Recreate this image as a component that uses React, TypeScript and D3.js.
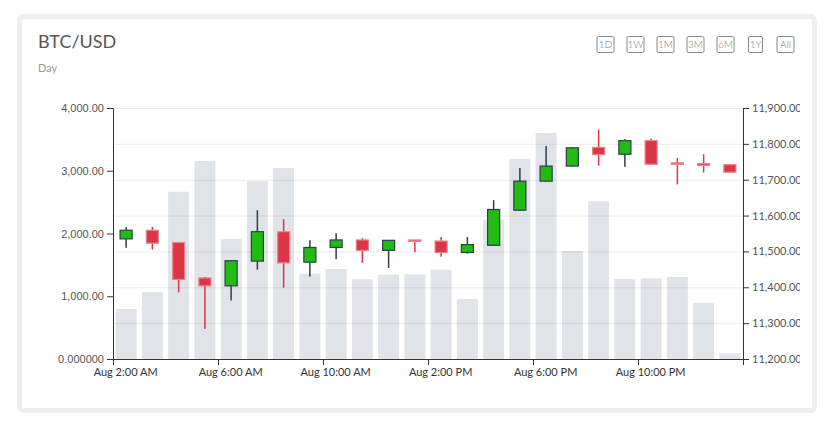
import React, { useEffect, useRef } from 'react';
import * as d3 from 'd3';

// hourly candles, Aug 2 2:00 AM .. Aug 3 1:00 AM
const startTime = new Date(2020, 7, 2, 2);
const endTime = new Date(2020, 7, 3, 2);
const times = d3.range(24).map((i) => d3.timeHour.offset(startTime, i));

const opens = [11535, 11559, 11525, 11426, 11404, 11473, 11555, 11470, 11511, 11532, 11503, 11532, 11529, 11497, 11517, 11615, 11696, 11738, 11790, 11771, 11809, 11747, 11745, 11742];
const closes = [11559, 11523, 11422, 11404, 11474, 11555, 11468, 11511, 11532, 11503, 11531, 11528, 11497, 11519, 11617, 11696, 11738, 11789, 11770, 11809, 11743, 11743, 11740, 11721];
const highs = [11568, 11568, 11525, 11429, 11474, 11615, 11590, 11531, 11551, 11537, 11531, 11532, 11540, 11540, 11643, 11733, 11794, 11790, 11840, 11813, 11815, 11761, 11771, 11742];
const lows = [11510, 11505, 11386, 11284, 11363, 11449, 11399, 11430, 11478, 11468, 11454, 11498, 11485, 11494, 11517, 11613, 11696, 11737, 11739, 11736, 11743, 11687, 11720, 11720];
const volumes = [797, 1068, 2666, 3155, 1912, 2832, 3044, 1360, 1434, 1270, 1344, 1350, 1423, 956, 2220, 3187, 3602, 1721, 2513, 1275, 1286, 1307, 897, 91];

const volumeTicks = [0, 1000, 2000, 3000, 4000];
const priceTicks = [11200, 11300, 11400, 11500, 11600, 11700, 11800, 11900];
const ranges = ['1D', '1W', '1M', '3M', '6M', '1Y', 'All'];

const GREEN = '#22bb11';
const RED = '#dc3545';
const NAVY = '#2c3e50';

function drawChart(svgRoot: SVGSVGElement) {
    const svg = d3.select(svgRoot);
    svg.selectChildren().remove();

    const width = 837;
    const height = 422;
    const margin = { top: 108, right: 94, bottom: 63, left: 113 };

    svg.attr('width', width).attr('height', height);

    // card
    svg.append('rect')
        .attr('x', 19.5).attr('y', 16.5)
        .attr('width', 795).attr('height', 394)
        .attr('rx', 4)
        .attr('fill', '#fff')
        .attr('stroke', '#eeeeee')
        .attr('stroke-width', 5);

    svg.append('text')
        .attr('x', 38).attr('y', 48)
        .attr('font-family', 'Lato, sans-serif')
        .attr('font-size', 18)
        .attr('fill', '#555')
        .text('BTC/USD');

    svg.append('text')
        .attr('x', 38).attr('y', 72)
        .attr('font-family', 'Lato, sans-serif')
        .attr('font-size', 11)
        .attr('fill', '#999')
        .text('Day');

    // range buttons
    const btn = svg.append('g').selectAll('g')
        .data(ranges)
        .enter().append('g')
        .attr('transform', (d, i) => `translate(${605.5 + i * 30},44.5)`);
    btn.append('rect')
        .attr('x', (d) => (d === '1Y' ? -7 : -8.5))
        .attr('y', -8)
        .attr('width', (d) => (d === '1Y' ? 14 : 17))
        .attr('height', 16)
        .attr('rx', 1.5)
        .attr('fill', '#fff')
        .attr('stroke', '#888')
        .attr('stroke-width', 1);
    btn.append('text')
        .attr('text-anchor', 'middle')
        .attr('dy', '0.35em')
        .attr('font-family', 'Lato, sans-serif')
        .attr('font-weight', 300)
        .attr('font-size', 10)
        .attr('fill', '#777')
        .text((d) => d);

    const x = d3.scaleTime().domain([startTime, endTime]).range([margin.left, width - margin.right]);
    const yVol = d3.scaleLinear().domain([0, 4000]).range([height - margin.bottom, margin.top]);
    const yPrice = d3.scaleLinear().domain([11200, 11900]).range([height - margin.bottom, margin.top]);

    const band = x(d3.timeHour.offset(startTime, 1)) - x(startTime);

    svg.append('clipPath').attr('id', 'chart-clip')
        .append('rect').attr('x', 0).attr('y', 0).attr('width', 800).attr('height', height);

    const g = svg.append('g').attr('clip-path', 'url(#chart-clip)');

    // volume bars
    g.append('g').selectAll('rect')
        .data(volumes)
        .enter().append('rect')
        .attr('x', (d, i) => x(times[i]) + band * 0.1)
        .attr('width', band * 0.8)
        .attr('y', (d) => yVol(d))
        .attr('height', (d) => yVol(0) - yVol(d))
        .attr('fill', '#e0e3e7');

    // grid
    g.append('g').selectAll('line')
        .data(priceTicks.slice(1))
        .enter().append('line')
        .attr('x1', margin.left).attr('x2', width - margin.right)
        .attr('y1', (d) => yPrice(d) + 0.5).attr('y2', (d) => yPrice(d) + 0.5)
        .attr('stroke', 'rgba(0,0,0,0.08)')
        .attr('stroke-width', 1);

    // candles
    const candles = g.append('g').selectAll('g')
        .data(times)
        .enter().append('g')
        .attr('transform', (d) => `translate(${x(d) + band / 2},0)`);

    candles.append('line')
        .attr('y1', (d, i) => yPrice(highs[i]))
        .attr('y2', (d, i) => yPrice(lows[i]))
        .attr('stroke', (d, i) => (closes[i] >= opens[i] ? NAVY : RED))
        .attr('stroke-width', 1.5);

    const bodyW = band * 0.46;
    candles.append('rect')
        .attr('x', -bodyW / 2)
        .attr('width', bodyW)
        .attr('y', (d, i) => yPrice(Math.max(opens[i], closes[i])))
        .attr('height', (d, i) => Math.max(1, Math.abs(yPrice(opens[i]) - yPrice(closes[i]))))
        .attr('fill', (d, i) => (closes[i] >= opens[i] ? GREEN : RED))
        .attr('stroke', (d, i) => (closes[i] >= opens[i] ? NAVY : '#e9838c'))
        .attr('stroke-width', 1.2);

    // axes
    const styleAxis = (sel: any, font: string, color: string) => {
        sel.selectAll('.domain').attr('stroke', '#333');
        sel.selectAll('.tick line').attr('stroke', '#333');
        sel.selectAll('.tick text')
            .attr('font-family', font)
            .attr('font-size', 11)
            .attr('fill', color);
    };

    const xAxis = g.append('g')
        .attr('transform', `translate(0,${height - margin.bottom})`)
        .call(d3.axisBottom(x)
            .tickValues(times.filter((d, i) => i % 4 === 0))
            .tickFormat((d: any) => 'Aug ' + d3.timeFormat('%-I:%M %p')(d)));
    styleAxis(xAxis, 'Lato, sans-serif', '#333');
    xAxis.selectAll('.tick text').attr('dx', band / 2 - 1);

    const leftAxis = g.append('g')
        .attr('transform', `translate(${margin.left},0)`)
        .call(d3.axisLeft(yVol)
            .tickValues(volumeTicks)
            .tickFormat((d: any) => (d === 0 ? '0.000000' : d3.format(',.2f')(d))));
    styleAxis(leftAxis, '"Liberation Sans", Arial, sans-serif', '#555');

    const rightAxis = g.append('g')
        .attr('transform', `translate(${width - margin.right},0)`)
        .call(d3.axisRight(yPrice)
            .tickValues(priceTicks)
            .tickFormat(d3.format(',.2f')));
    styleAxis(rightAxis, 'Lato, sans-serif', '#555');
}

export default function App() {
    const svgRef = useRef<SVGSVGElement>(null);

    useEffect(() => {
        svgRef.current && drawChart(svgRef.current);
    }, []);

    return (
        <div style={{ position: 'absolute', left: 0, top: 0 }}>
            <svg ref={svgRef} style={{ display: 'block' }}></svg>
        </div>
    );
}
